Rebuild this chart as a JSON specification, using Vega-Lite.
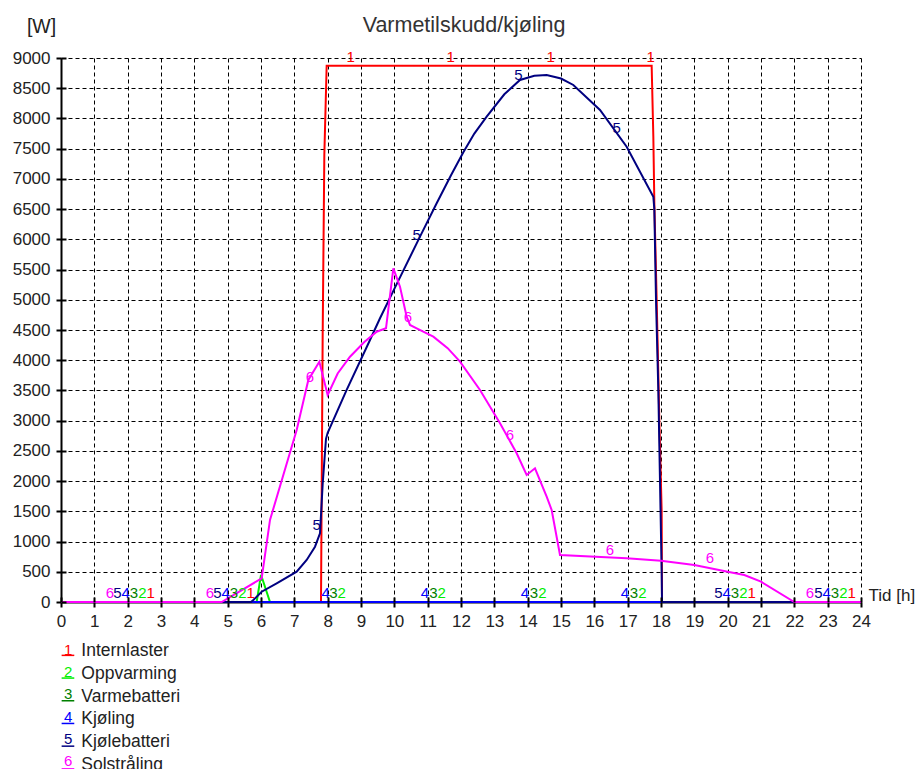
{
  "$schema": "https://vega.github.io/schema/vega-lite/v6.json",
  "width": 800,
  "height": 544,
  "autosize": {"type": "none"},
  "padding": {"left": 61, "top": 58, "right": 58, "bottom": 167},
  "background": "white",
  "title": {"text": "Varmetilskudd/kjøling", "fontSize": 21.5, "font": "Liberation Sans", "fontWeight": "normal", "color": "#333", "anchor": "middle", "frame": "group", "baseline": "alphabetic", "offset": 0, "dy": 37, "dx": 3},
  "config": {"view": {"stroke": null}, "font": "Liberation Sans"},
  "datasets": {
    "lines": [
      {"s": "Internlaster", "n": "1", "t": 0, "w": 0},
      {"s": "Internlaster", "n": "1", "t": 7.8, "w": 0},
      {"s": "Internlaster", "n": "1", "t": 7.85, "w": 4400},
      {"s": "Internlaster", "n": "1", "t": 7.9, "w": 7400},
      {"s": "Internlaster", "n": "1", "t": 7.97, "w": 8870},
      {"s": "Internlaster", "n": "1", "t": 17.72, "w": 8870},
      {"s": "Internlaster", "n": "1", "t": 17.77, "w": 7700},
      {"s": "Internlaster", "n": "1", "t": 17.8, "w": 6600},
      {"s": "Internlaster", "n": "1", "t": 17.87, "w": 5000},
      {"s": "Internlaster", "n": "1", "t": 17.95, "w": 3000},
      {"s": "Internlaster", "n": "1", "t": 18.02, "w": 1500},
      {"s": "Internlaster", "n": "1", "t": 18.03, "w": 0},
      {"s": "Internlaster", "n": "1", "t": 24, "w": 0},
      {"s": "Oppvarming", "n": "2", "t": 0, "w": 0},
      {"s": "Oppvarming", "n": "2", "t": 5.87, "w": 0},
      {"s": "Oppvarming", "n": "2", "t": 6.0, "w": 450},
      {"s": "Oppvarming", "n": "2", "t": 6.27, "w": 0},
      {"s": "Oppvarming", "n": "2", "t": 24, "w": 0},
      {"s": "Varmebatteri", "n": "3", "t": 0, "w": 0},
      {"s": "Varmebatteri", "n": "3", "t": 24, "w": 0},
      {"s": "Kjøling", "n": "4", "t": 0, "w": 0},
      {"s": "Kjøling", "n": "4", "t": 24, "w": 0},
      {"s": "Kjølebatteri", "n": "5", "t": 0, "w": 0},
      {"s": "Kjølebatteri", "n": "5", "t": 5.7, "w": 0},
      {"s": "Kjølebatteri", "n": "5", "t": 5.77, "w": 33},
      {"s": "Kjølebatteri", "n": "5", "t": 6.02, "w": 170},
      {"s": "Kjølebatteri", "n": "5", "t": 6.47, "w": 309},
      {"s": "Kjølebatteri", "n": "5", "t": 7.07, "w": 502},
      {"s": "Kjølebatteri", "n": "5", "t": 7.37, "w": 695},
      {"s": "Kjølebatteri", "n": "5", "t": 7.62, "w": 915},
      {"s": "Kjølebatteri", "n": "5", "t": 7.77, "w": 1136},
      {"s": "Kjølebatteri", "n": "5", "t": 7.85, "w": 1950},
      {"s": "Kjølebatteri", "n": "5", "t": 7.95, "w": 2700},
      {"s": "Kjølebatteri", "n": "5", "t": 8.0, "w": 2800},
      {"s": "Kjølebatteri", "n": "5", "t": 8.57, "w": 3508},
      {"s": "Kjølebatteri", "n": "5", "t": 9.27, "w": 4335},
      {"s": "Kjølebatteri", "n": "5", "t": 9.57, "w": 4694},
      {"s": "Kjølebatteri", "n": "5", "t": 10.0, "w": 5180},
      {"s": "Kjølebatteri", "n": "5", "t": 10.77, "w": 6044},
      {"s": "Kjølebatteri", "n": "5", "t": 11.27, "w": 6596},
      {"s": "Kjølebatteri", "n": "5", "t": 11.7, "w": 7060},
      {"s": "Kjølebatteri", "n": "5", "t": 12.07, "w": 7440},
      {"s": "Kjølebatteri", "n": "5", "t": 12.4, "w": 7750},
      {"s": "Kjølebatteri", "n": "5", "t": 12.77, "w": 8030},
      {"s": "Kjølebatteri", "n": "5", "t": 13.3, "w": 8400},
      {"s": "Kjølebatteri", "n": "5", "t": 13.77, "w": 8637},
      {"s": "Kjølebatteri", "n": "5", "t": 14.2, "w": 8705},
      {"s": "Kjølebatteri", "n": "5", "t": 14.57, "w": 8720},
      {"s": "Kjølebatteri", "n": "5", "t": 15.0, "w": 8660},
      {"s": "Kjølebatteri", "n": "5", "t": 15.37, "w": 8554},
      {"s": "Kjølebatteri", "n": "5", "t": 16.17, "w": 8140},
      {"s": "Kjølebatteri", "n": "5", "t": 16.97, "w": 7533},
      {"s": "Kjølebatteri", "n": "5", "t": 17.77, "w": 6705},
      {"s": "Kjølebatteri", "n": "5", "t": 17.8, "w": 6500},
      {"s": "Kjølebatteri", "n": "5", "t": 17.85, "w": 5000},
      {"s": "Kjølebatteri", "n": "5", "t": 17.92, "w": 3500},
      {"s": "Kjølebatteri", "n": "5", "t": 17.97, "w": 2000},
      {"s": "Kjølebatteri", "n": "5", "t": 18.02, "w": 500},
      {"s": "Kjølebatteri", "n": "5", "t": 18.03, "w": 0},
      {"s": "Kjølebatteri", "n": "5", "t": 24, "w": 0},
      {"s": "Solstråling", "n": "6", "t": 0, "w": 0},
      {"s": "Solstråling", "n": "6", "t": 4.82, "w": 0},
      {"s": "Solstråling", "n": "6", "t": 6.02, "w": 390},
      {"s": "Solstråling", "n": "6", "t": 6.27, "w": 1357},
      {"s": "Solstråling", "n": "6", "t": 7.07, "w": 2846},
      {"s": "Solstråling", "n": "6", "t": 7.42, "w": 3673},
      {"s": "Solstråling", "n": "6", "t": 7.75, "w": 3975},
      {"s": "Solstråling", "n": "6", "t": 8.0, "w": 3425},
      {"s": "Solstråling", "n": "6", "t": 8.3, "w": 3780},
      {"s": "Solstråling", "n": "6", "t": 8.67, "w": 4058},
      {"s": "Solstråling", "n": "6", "t": 9.1, "w": 4300},
      {"s": "Solstråling", "n": "6", "t": 9.47, "w": 4472},
      {"s": "Solstråling", "n": "6", "t": 9.75, "w": 4528},
      {"s": "Solstråling", "n": "6", "t": 9.97, "w": 5521},
      {"s": "Solstråling", "n": "6", "t": 10.17, "w": 5217},
      {"s": "Solstråling", "n": "6", "t": 10.37, "w": 4720},
      {"s": "Solstråling", "n": "6", "t": 10.47, "w": 4583},
      {"s": "Solstråling", "n": "6", "t": 10.67, "w": 4528},
      {"s": "Solstråling", "n": "6", "t": 11.17, "w": 4390},
      {"s": "Solstråling", "n": "6", "t": 11.6, "w": 4200},
      {"s": "Solstråling", "n": "6", "t": 11.97, "w": 3976},
      {"s": "Solstråling", "n": "6", "t": 12.57, "w": 3508},
      {"s": "Solstråling", "n": "6", "t": 13.17, "w": 2957},
      {"s": "Solstråling", "n": "6", "t": 13.67, "w": 2460},
      {"s": "Solstråling", "n": "6", "t": 13.97, "w": 2101},
      {"s": "Solstråling", "n": "6", "t": 14.22, "w": 2212},
      {"s": "Solstråling", "n": "6", "t": 14.57, "w": 1742},
      {"s": "Solstråling", "n": "6", "t": 14.72, "w": 1522},
      {"s": "Solstråling", "n": "6", "t": 14.97, "w": 778},
      {"s": "Solstråling", "n": "6", "t": 16.97, "w": 723},
      {"s": "Solstråling", "n": "6", "t": 18, "w": 683},
      {"s": "Solstråling", "n": "6", "t": 19, "w": 612},
      {"s": "Solstråling", "n": "6", "t": 20, "w": 502},
      {"s": "Solstråling", "n": "6", "t": 20.5, "w": 447},
      {"s": "Solstråling", "n": "6", "t": 21, "w": 336},
      {"s": "Solstråling", "n": "6", "t": 22, "w": 0},
      {"s": "Solstråling", "n": "6", "t": 24, "w": 0}
    ],
    "labels": [
      {"s": "Internlaster", "l": "1", "t": 2.69, "w": 150},
      {"s": "Internlaster", "l": "1", "t": 5.69, "w": 150},
      {"s": "Internlaster", "l": "1", "t": 8.69, "w": 9020},
      {"s": "Internlaster", "l": "1", "t": 11.69, "w": 9020},
      {"s": "Internlaster", "l": "1", "t": 14.69, "w": 9020},
      {"s": "Internlaster", "l": "1", "t": 17.69, "w": 9020},
      {"s": "Internlaster", "l": "1", "t": 20.72, "w": 150},
      {"s": "Internlaster", "l": "1", "t": 23.72, "w": 150},
      {"s": "Oppvarming", "l": "2", "t": 2.44, "w": 150},
      {"s": "Oppvarming", "l": "2", "t": 5.44, "w": 150},
      {"s": "Oppvarming", "l": "2", "t": 8.42, "w": 150},
      {"s": "Oppvarming", "l": "2", "t": 11.42, "w": 150},
      {"s": "Oppvarming", "l": "2", "t": 14.44, "w": 150},
      {"s": "Oppvarming", "l": "2", "t": 17.44, "w": 150},
      {"s": "Oppvarming", "l": "2", "t": 20.47, "w": 150},
      {"s": "Oppvarming", "l": "2", "t": 23.47, "w": 150},
      {"s": "Varmebatteri", "l": "3", "t": 2.19, "w": 150},
      {"s": "Varmebatteri", "l": "3", "t": 5.19, "w": 150},
      {"s": "Varmebatteri", "l": "3", "t": 8.17, "w": 150},
      {"s": "Varmebatteri", "l": "3", "t": 11.17, "w": 150},
      {"s": "Varmebatteri", "l": "3", "t": 14.19, "w": 150},
      {"s": "Varmebatteri", "l": "3", "t": 17.19, "w": 150},
      {"s": "Varmebatteri", "l": "3", "t": 20.22, "w": 150},
      {"s": "Varmebatteri", "l": "3", "t": 23.22, "w": 150},
      {"s": "Kjøling", "l": "4", "t": 1.94, "w": 150},
      {"s": "Kjøling", "l": "4", "t": 4.94, "w": 150},
      {"s": "Kjøling", "l": "4", "t": 7.94, "w": 150},
      {"s": "Kjøling", "l": "4", "t": 10.92, "w": 150},
      {"s": "Kjøling", "l": "4", "t": 13.92, "w": 150},
      {"s": "Kjøling", "l": "4", "t": 16.92, "w": 150},
      {"s": "Kjøling", "l": "4", "t": 19.97, "w": 150},
      {"s": "Kjøling", "l": "4", "t": 22.97, "w": 150},
      {"s": "Kjølebatteri", "l": "5", "t": 1.69, "w": 150},
      {"s": "Kjølebatteri", "l": "5", "t": 4.69, "w": 150},
      {"s": "Kjølebatteri", "l": "5", "t": 7.67, "w": 1274},
      {"s": "Kjølebatteri", "l": "5", "t": 10.67, "w": 6072},
      {"s": "Kjølebatteri", "l": "5", "t": 13.72, "w": 8720},
      {"s": "Kjølebatteri", "l": "5", "t": 16.67, "w": 7837},
      {"s": "Kjølebatteri", "l": "5", "t": 19.72, "w": 150},
      {"s": "Kjølebatteri", "l": "5", "t": 22.72, "w": 150},
      {"s": "Solstråling", "l": "6", "t": 1.47, "w": 150},
      {"s": "Solstråling", "l": "6", "t": 4.47, "w": 150},
      {"s": "Solstråling", "l": "6", "t": 7.47, "w": 3720},
      {"s": "Solstråling", "l": "6", "t": 10.41, "w": 4720},
      {"s": "Solstråling", "l": "6", "t": 13.47, "w": 2763},
      {"s": "Solstråling", "l": "6", "t": 16.47, "w": 860},
      {"s": "Solstråling", "l": "6", "t": 19.47, "w": 720},
      {"s": "Solstråling", "l": "6", "t": 22.47, "w": 150}
    ]
  },
  "resolve": {"axis": {"x": "independent", "y": "independent"}},
  "layer": [
    {
      "data": {"name": "lines"},
      "transform": [{"filter": "datum.s === 'Internlaster'"}],
      "mark": {"type": "line", "strokeWidth": 2},
      "encoding": {
        "x": {"field": "t", "type": "quantitative", "scale": {"domain": [0, 24], "nice": false, "zero": false},
          "axis": {"values": [0,1,2,3,4,5,6,7,8,9,10,11,12,13,14,15,16,17,18,19,20,21,22,23,24], "format": "d", "grid": true, "gridDash": [4, 3], "gridColor": "#000", "gridWidth": 1, "gridOpacity": 1,
            "domainColor": "#000", "domainWidth": 2, "tickColor": "#000", "tickWidth": 2, "tickSize": 5,
            "labelFontSize": 17, "labelColor": "#222", "labelPadding": 6, "labelFont": "Liberation Sans", "labelFlush": false, "labelOverlap": false,
            "title": "Tid [h]", "titleX": 807, "titleY": -2, "titleAlign": "left", "titleBaseline": "alphabetic", "titleFontSize": 17, "titleFontWeight": "normal", "titleColor": "#222", "titleFont": "Liberation Sans", "zindex": 0}},
        "y": {"field": "w", "type": "quantitative", "scale": {"domain": [0, 9000], "nice": false, "zero": false},
          "axis": {"values": [0,500,1000,1500,2000,2500,3000,3500,4000,4500,5000,5500,6000,6500,7000,7500,8000,8500,9000], "format": "d", "grid": true, "gridDash": [4, 3], "gridColor": "#000", "gridWidth": 1, "gridOpacity": 1,
            "domainColor": "#000", "domainWidth": 2, "tickColor": "#000", "tickWidth": 2, "tickSize": 5,
            "labelFontSize": 17, "labelColor": "#222", "labelPadding": 6, "labelFont": "Liberation Sans", "labelFlush": false, "labelOverlap": false,
            "title": "[W]", "titleAngle": 0, "titleX": -20, "titleY": -26, "titleAlign": "center", "titleBaseline": "alphabetic", "titleFontSize": 19.5, "titleFontWeight": "normal", "titleColor": "#222", "titleFont": "Liberation Sans", "zindex": 0}},
        "color": {"field": "s", "type": "nominal",
          "scale": {"domain": ["Internlaster", "Oppvarming", "Varmebatteri", "Kjøling", "Kjølebatteri", "Solstråling"], "range": ["#ff0000", "#00ee00", "#008000", "#0000ff", "#000080", "#ff00ff"]},
          "legend": {"orient": "none", "legendX": -1.8, "legendY": 584.5, "direction": "vertical", "title": null, "padding": 0,
            "symbolType": "M-1,0.65L1,0.65", "symbolSize": 160, "symbolStrokeWidth": 1.5,
            "labelFontSize": 17.5, "labelColor": "#222", "labelFont": "Liberation Sans", "labelOffset": 4.6, "rowPadding": 3.7}},
        "strokeDash": {"field": "n", "type": "nominal",
          "scale": {"domain": ["1", "2", "3", "4", "5", "6"], "range": [[1, 0], [1, 0], [1, 0], [1, 0], [1, 0], [1, 0]]},
          "legend": {"orient": "none", "legendX": -12, "legendY": 584.5, "direction": "vertical", "title": null, "padding": 0,
            "symbolSize": 1, "symbolOpacity": 0, "symbolStrokeWidth": 0,
            "labelFontSize": 15, "labelFont": "Liberation Sans", "labelOffset": 0, "rowPadding": 6.2,
            "encode": {"labels": {"update": {"fill": {"signal": "datum.value === '1' ? '#ff0000' : datum.value === '2' ? '#00ee00' : datum.value === '3' ? '#008000' : datum.value === '4' ? '#0000ff' : datum.value === '5' ? '#000080' : '#ff00ff'"}}}}}}
      }
    },
    {
      "data": {"name": "lines"},
      "transform": [{"filter": "datum.s === 'Oppvarming'"}],
      "mark": {"type": "line", "strokeWidth": 2},
      "encoding": {
        "x": {"field": "t", "type": "quantitative", "axis": null},
        "y": {"field": "w", "type": "quantitative", "axis": null},
        "color": {"field": "s", "type": "nominal", "legend": null}
      }
    },
    {
      "data": {"name": "lines"},
      "transform": [{"filter": "datum.s === 'Varmebatteri'"}],
      "mark": {"type": "line", "strokeWidth": 2},
      "encoding": {
        "x": {"field": "t", "type": "quantitative", "axis": null},
        "y": {"field": "w", "type": "quantitative", "axis": null},
        "color": {"field": "s", "type": "nominal", "legend": null}
      }
    },
    {
      "data": {"name": "lines"},
      "transform": [{"filter": "datum.s === 'Kjøling'"}],
      "mark": {"type": "line", "strokeWidth": 2},
      "encoding": {
        "x": {"field": "t", "type": "quantitative", "axis": null},
        "y": {"field": "w", "type": "quantitative", "axis": null},
        "color": {"field": "s", "type": "nominal", "legend": null}
      }
    },
    {
      "data": {"name": "lines"},
      "transform": [{"filter": "datum.s === 'Kjølebatteri'"}],
      "mark": {"type": "line", "strokeWidth": 2},
      "encoding": {
        "x": {"field": "t", "type": "quantitative", "axis": null},
        "y": {"field": "w", "type": "quantitative", "axis": null},
        "color": {"field": "s", "type": "nominal", "legend": null}
      }
    },
    {
      "data": {"name": "lines"},
      "transform": [{"filter": "datum.s === 'Solstråling'"}],
      "mark": {"type": "line", "strokeWidth": 2},
      "encoding": {
        "x": {"field": "t", "type": "quantitative", "axis": null},
        "y": {"field": "w", "type": "quantitative", "axis": null},
        "color": {"field": "s", "type": "nominal", "legend": null}
      }
    },
    {
      "data": {"name": "labels"},
      "mark": {"type": "text", "fontSize": 15, "font": "Liberation Sans", "baseline": "middle", "align": "center"},
      "encoding": {
        "x": {"field": "t", "type": "quantitative",
          "axis": {"orient": "top", "offset": -544, "values": [0,1,2,3,4,5,6,7,8,9,10,11,12,13,14,15,16,17,18,19,20,21,22,23,24], "domain": false, "labels": false, "grid": false, "title": null, "ticks": true, "tickSize": 5, "tickWidth": 2, "tickColor": "#000", "zindex": 1}},
        "y": {"field": "w", "type": "quantitative",
          "axis": {"orient": "right", "offset": -800, "values": [0,500,1000,1500,2000,2500,3000,3500,4000,4500,5000,5500,6000,6500,7000,7500,8000,8500,9000], "domain": false, "labels": false, "grid": false, "title": null, "ticks": true, "tickSize": 5, "tickWidth": 2, "tickColor": "#000", "zindex": 1}},
        "text": {"field": "l", "type": "nominal"},
        "color": {"field": "s", "type": "nominal", "legend": null}
      }
    }
  ]
}
